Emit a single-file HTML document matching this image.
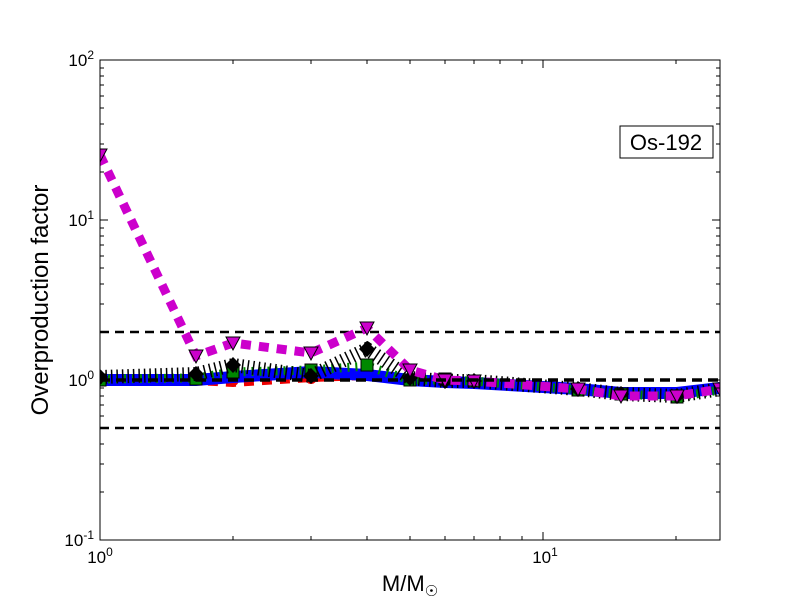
<!DOCTYPE html>
<html><head><meta charset="utf-8"><style>body{margin:0;background:#fff}svg{display:block}</style></head><body>
<svg width="800" height="600" xmlns="http://www.w3.org/2000/svg" font-family="Liberation Sans, DejaVu Sans, sans-serif">
<rect width="800" height="600" fill="#fff"/>
<defs><clipPath id="c"><rect x="100" y="60" width="620" height="480"/></clipPath></defs>
<g clip-path="url(#c)">
<g stroke="#000" stroke-width="2.5" stroke-dasharray="9,6" fill="none">
<line x1="100" y1="332" x2="720" y2="332"/><line x1="100" y1="428" x2="720" y2="428"/>
</g>
<polyline points="100,381 196,382 233,384 311,379 367,377 410,380 445,381 474,382 578,389 621,393 677,395 720,389" fill="none" stroke="#e00" stroke-width="6" stroke-dasharray="10,8"/>
<g fill="#e00"><circle cx="233" cy="380" r="6"/><circle cx="311" cy="378" r="6"/></g>
<polyline points="100,380 196,380 233,377 311,372 367,375 410,380 445,382 474,383 578,389 621,393 677,393 720,388" fill="none" stroke="#00f" stroke-width="12"/>
<polyline points="100,379 196,378 233,372 311,370 367,366 410,380 445,380 474,381 578,390 621,394 677,397 720,390" fill="none" stroke="#080" stroke-width="9" stroke-dasharray="2,6"/>
<g fill="#080" stroke="#000" stroke-width="1">
<rect x="94" y="374" width="12" height="12"/><rect x="190" y="373" width="12" height="12"/><rect x="227" y="366" width="12" height="12"/><rect x="305" y="364" width="12" height="12"/><rect x="361" y="359" width="12" height="12"/><rect x="404" y="374" width="12" height="12"/><rect x="439" y="373" width="12" height="12"/><rect x="468" y="375" width="12" height="12"/><rect x="572" y="384" width="12" height="12"/><rect x="615" y="388" width="12" height="12"/><rect x="671" y="391" width="12" height="12"/>
</g>
<polyline points="100,377 196,374 233,365 311,376 367,349 410,378 445,381 474,381 578,389 621,394 677,396 720,389" fill="none" stroke="#000" stroke-width="14" stroke-dasharray="1.5,4"/>
<g fill="#000">
<polygon points="100,369 108,377 100,385 92,377"/><polygon points="196,366 204,374 196,382 188,374"/><polygon points="233,357 241,365 233,373 225,365"/><polygon points="311,368 319,376 311,384 303,376"/><polygon points="367,341 375,349 367,357 359,349"/><polygon points="410,370 418,378 410,386 402,378"/><polygon points="445,373 453,381 445,389 437,381"/><polygon points="474,373 482,381 474,389 466,381"/><polygon points="578,381 586,389 578,397 570,389"/><polygon points="621,386 629,394 621,402 613,394"/><polygon points="677,388 685,396 677,404 669,396"/>
</g>
<polyline points="100,155 196,356 233,343 311,353 367,328 410,370 445,380 474,381 578,389 621,396 677,396 720,389" fill="none" stroke="#c0c" stroke-width="9" stroke-dasharray="10,8"/>
<g fill="#c0c" stroke="#000" stroke-width="1">
<polygon points="93,149 107,149 100,162"/><polygon points="189,350 203,350 196,363"/><polygon points="226,337 240,337 233,350"/><polygon points="304,347 318,347 311,360"/><polygon points="360,322 374,322 367,335"/><polygon points="403,364 417,364 410,377"/><polygon points="438,374 452,374 445,387"/><polygon points="467,375 481,375 474,388"/><polygon points="571,383 585,383 578,396"/><polygon points="614,390 628,390 621,403"/><polygon points="670,390 684,390 677,403"/><polygon points="713,383 727,383 720,396"/>
</g>
<line x1="100" y1="380" x2="720" y2="380" stroke="#000" stroke-width="3.5" stroke-dasharray="10,6"/>
</g>
<rect x="100" y="60" width="620" height="480" fill="none" stroke="#000" stroke-width="1"/>
<g stroke="#000" stroke-width="1">
<path d="M100,60h8M100,220h8M100,380h8M100,540h8M720,60h-8M720,220h-8M720,380h-8M720,540h-8"/>
<path d="M100,540v-8M543,540v-8M100,60v8M543,60v8"/>
<path d="M100,492h4M100,464h4M100,444h4M100,428h4M100,416h4M100,405h4M100,396h4M100,388h4
M100,332h4M100,304h4M100,284h4M100,268h4M100,256h4M100,245h4M100,236h4M100,228h4
M100,172h4M100,144h4M100,124h4M100,108h4M100,96h4M100,85h4M100,76h4M100,68h4
M720,492h-4M720,464h-4M720,444h-4M720,428h-4M720,416h-4M720,405h-4M720,396h-4M720,388h-4
M720,332h-4M720,304h-4M720,284h-4M720,268h-4M720,256h-4M720,245h-4M720,236h-4M720,228h-4
M720,172h-4M720,144h-4M720,124h-4M720,108h-4M720,96h-4M720,85h-4M720,76h-4M720,68h-4"/>
<path d="M233,540v-4M311,540v-4M367,540v-4M410,540v-4M445,540v-4M474,540v-4M500,540v-4M522,540v-4M676,540v-4
M233,60v4M311,60v4M367,60v4M410,60v4M445,60v4M474,60v4M500,60v4M522,60v4M676,60v4"/>
</g>
<g font-size="17" fill="#000" text-anchor="end">
<text x="94" y="66">10<tspan font-size="12" dy="-7">2</tspan></text>
<text x="94" y="226">10<tspan font-size="12" dy="-7">1</tspan></text>
<text x="94" y="386">10<tspan font-size="12" dy="-7">0</tspan></text>
<text x="94" y="546">10<tspan font-size="12" dy="-7">-1</tspan></text>
</g>
<g font-size="17" fill="#000" text-anchor="middle">
<text x="100" y="563">10<tspan font-size="12" dy="-7">0</tspan></text>
<text x="545" y="563">10<tspan font-size="12" dy="-7">1</tspan></text>
</g>
<text x="410" y="591" font-size="22" text-anchor="middle">M/M<tspan font-size="15" dy="5">☉</tspan></text>
<text transform="translate(48,300) rotate(-90)" font-size="24" text-anchor="middle">Overproduction factor</text>
<rect x="620" y="126" width="93" height="32" fill="#fff" stroke="#000" stroke-width="1"/>
<text x="666" y="150" font-size="22" text-anchor="middle">Os-192</text>
</svg>
</body></html>
